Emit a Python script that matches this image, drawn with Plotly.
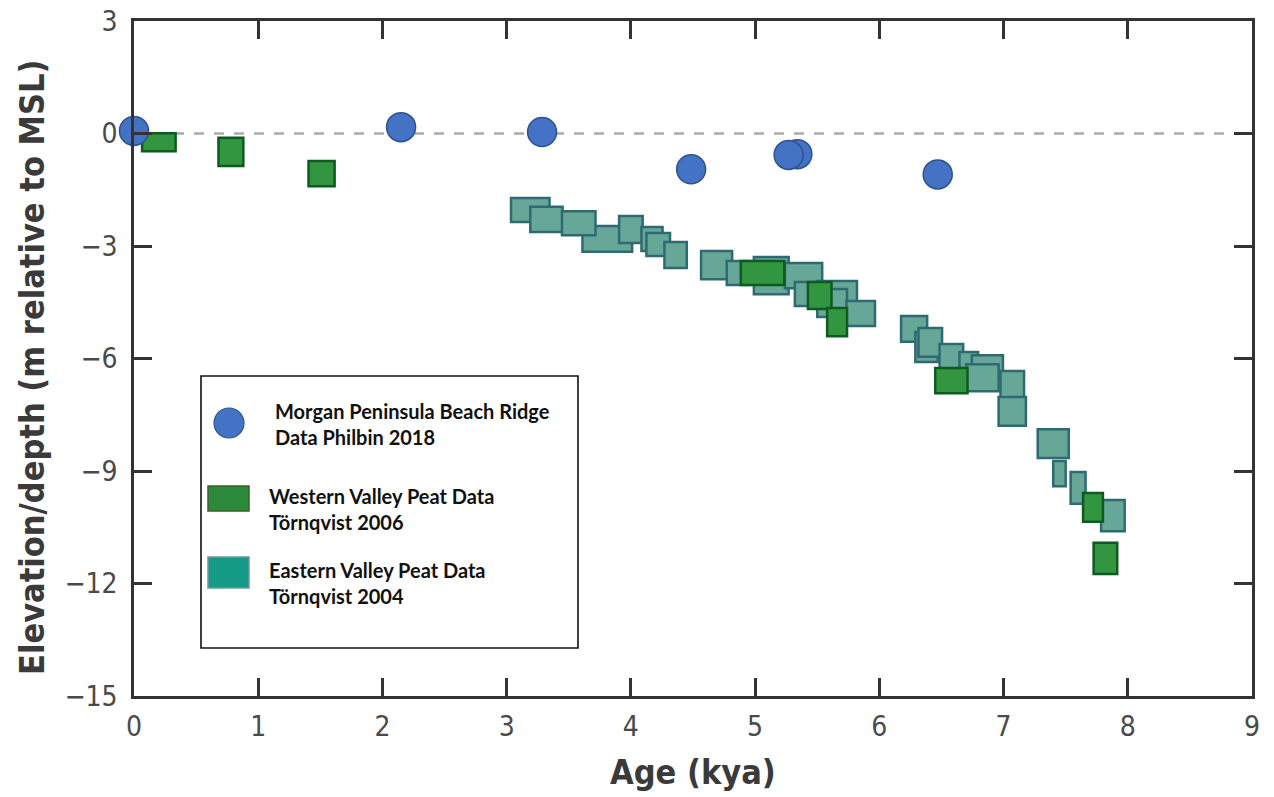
import plotly.graph_objects as go

# ---- data ----
beach_age = [0.00, 2.15, 3.285, 4.485, 5.34, 5.27, 6.47]
beach_elev = [0.07, 0.17, 0.04, -0.955, -0.55, -0.57, -1.09]

west_age = [0.20, 0.78, 1.51, 5.06, 5.52, 5.66, 6.58, 7.72, 7.82]
west_age_err = [0.135, 0.10, 0.105, 0.175, 0.095, 0.08, 0.13, 0.08, 0.095]
west_elev = [-0.23, -0.49, -1.07, -3.72, -4.32, -5.03, -6.59, -9.97, -11.33]
west_elev_err = [0.24, 0.375, 0.335, 0.32, 0.36, 0.375, 0.335, 0.385, 0.415]

east_age = [3.19, 3.32, 3.81, 3.58, 4.00, 4.17, 4.22, 4.36, 4.69, 4.865,
            5.13, 5.39, 5.42, 5.66, 5.62, 5.85, 6.28, 6.38, 6.41, 6.58,
            6.72, 6.87, 6.83, 7.07, 7.07, 7.40, 7.45, 7.60, 7.88]
east_age_err = [0.155, 0.13, 0.20, 0.135, 0.095, 0.085, 0.095, 0.09, 0.125, 0.093,
                0.14, 0.15, 0.10, 0.16, 0.12, 0.115, 0.105, 0.09, 0.095, 0.095,
                0.075, 0.125, 0.13, 0.095, 0.11, 0.125, 0.05, 0.06, 0.095]
east_elev = [-2.04, -2.29, -2.81, -2.39, -2.56, -2.81, -2.96, -3.24, -3.51, -3.72,
             -3.79, -3.79, -4.28, -4.21, -4.52, -4.80, -5.21, -5.69, -5.57, -5.97,
             -6.16, -6.23, -6.51, -6.69, -7.41, -8.27, -9.07, -9.45, -10.19]
east_elev_err = [0.32, 0.335, 0.345, 0.32, 0.36, 0.32, 0.305, 0.345, 0.375, 0.32,
                 0.495, 0.335, 0.32, 0.28, 0.375, 0.335, 0.345, 0.40, 0.385, 0.36,
                 0.335, 0.32, 0.36, 0.36, 0.385, 0.385, 0.335, 0.425, 0.415]

x_ticks = [0, 1, 2, 3, 4, 5, 6, 7, 8, 9]
y_ticks = [3, 0, -3, -6, -9, -12, -15]
y_tick_text = ["3", "0", "\u22123", "\u22126", "\u22129", "\u221212", "\u221215"]

legend_labels = ["Morgan Peninsula Beach Ridge<br>Data Philbin 2018",
                 "Western Valley Peat Data<br>Törnqvist 2006",
                 "Eastern Valley Peat Data<br>Törnqvist 2004"]

# ---- styles ----
BLUE, BLUE_LINE = "#4472C4", "#2F528F"
GREEN, GREEN_LINE = "#31963F", "#0F5A20"
TEAL, TEAL_LINE = "#67A798", "#2F6A72"
TICK_FONT = "Liberation Sans Narrow, DejaVu Sans Condensed, Arial Narrow, sans-serif"
LEG_FONT = "Lato, Open Sans, sans-serif"

fig = go.Figure()
shapes = []

# reference line at MSL
shapes.append(dict(type="line", xref="x", yref="y", x0=0, x1=9, y0=0, y1=0,
                   line=dict(color="#ABABAB", width=2.5, dash="10px,10px"), layer="below"))

for a, ae, e, ee in zip(east_age, east_age_err, east_elev, east_elev_err):
    shapes.append(dict(type="rect", xref="x", yref="y", x0=a - ae, x1=a + ae,
                       y0=e - ee, y1=e + ee, fillcolor=TEAL,
                       line=dict(color=TEAL_LINE, width=2.5), layer="below"))
for a, ae, e, ee in zip(west_age, west_age_err, west_elev, west_elev_err):
    shapes.append(dict(type="rect", xref="x", yref="y", x0=a - ae, x1=a + ae,
                       y0=e - ee, y1=e + ee, fillcolor=GREEN,
                       line=dict(color=GREEN_LINE, width=2.5), layer="below"))

fig.add_trace(go.Scatter(x=beach_age, y=beach_elev, mode="markers",
                         marker=dict(size=29, color=BLUE, line=dict(color=BLUE_LINE, width=1.5)),
                         showlegend=False, cliponaxis=False))

# ---- custom legend (paper coords) ----
W, H = 1118.0, 675.0
def px(x):
    return (x - 134) / W
def py(y):
    return (696 - y) / H

shapes.append(dict(type="rect", xref="paper", yref="paper", x0=px(201), x1=px(578),
                   y0=py(648), y1=py(376), fillcolor="white",
                   line=dict(color="#111111", width=1.6), layer="above"))
shapes.append(dict(type="circle", xref="paper", yref="paper", x0=px(214), x1=px(244),
                   y0=py(438), y1=py(408), fillcolor=BLUE,
                   line=dict(color=BLUE_LINE, width=1.2), layer="above"))
shapes.append(dict(type="rect", xref="paper", yref="paper", x0=px(208), x1=px(249),
                   y0=py(511), y1=py(486), fillcolor="#2A8A3A",
                   line=dict(color="#3D5E2E", width=1.5), layer="above"))
shapes.append(dict(type="rect", xref="paper", yref="paper", x0=px(208), x1=px(249),
                   y0=py(588), y1=py(557), fillcolor="#169A88",
                   line=dict(color="#6E98A0", width=1.5), layer="above"))

annotations = []
for lbl, xx, yy in zip(legend_labels, [273, 267, 267], [423.5, 509, 582.5]):
    annotations.append(dict(text="<b>" + lbl + "</b>", xref="paper", yref="paper",
                            x=px(xx), y=py(yy), xanchor="left", yanchor="middle",
                            align="left", showarrow=False,
                            font=dict(family=LEG_FONT, size=20, color="#111111")))

annotations.append(dict(text="<b>Age (kya)</b>", xref="paper", yref="paper",
                        x=px(693), y=py(772), xanchor="center", yanchor="middle",
                        showarrow=False, font=dict(family=TICK_FONT, size=34, color="#3a3a3a")))
annotations.append(dict(text="<b>Elevation/depth (m relative to MSL)</b>", xref="paper", yref="paper",
                        x=px(32), y=py(367), xanchor="center", yanchor="middle", textangle=-90,
                        showarrow=False, font=dict(family=TICK_FONT, size=34, color="#3a3a3a")))

axis_common = dict(showline=True, linecolor="#333333", linewidth=2.5, mirror="ticks",
                   ticks="inside", ticklen=18, tickwidth=2.5, tickcolor="#333333",
                   showgrid=False, zeroline=False, automargin=False,
                   tickfont=dict(family=TICK_FONT, size=28, color="#4a4a4a"))

fig.update_layout(
    width=1274, height=797,
    margin=dict(l=134, r=22, t=21, b=101),
    paper_bgcolor="white", plot_bgcolor="white",
    xaxis=dict(range=[0, 9], tickvals=x_ticks, ticklabelstandoff=4, **axis_common),
    yaxis=dict(range=[-15, 3], tickvals=y_ticks, ticktext=y_tick_text,
               ticklabelstandoff=8, **axis_common),
    shapes=shapes, annotations=annotations, showlegend=False,
)

fig.write_html("out.html")
